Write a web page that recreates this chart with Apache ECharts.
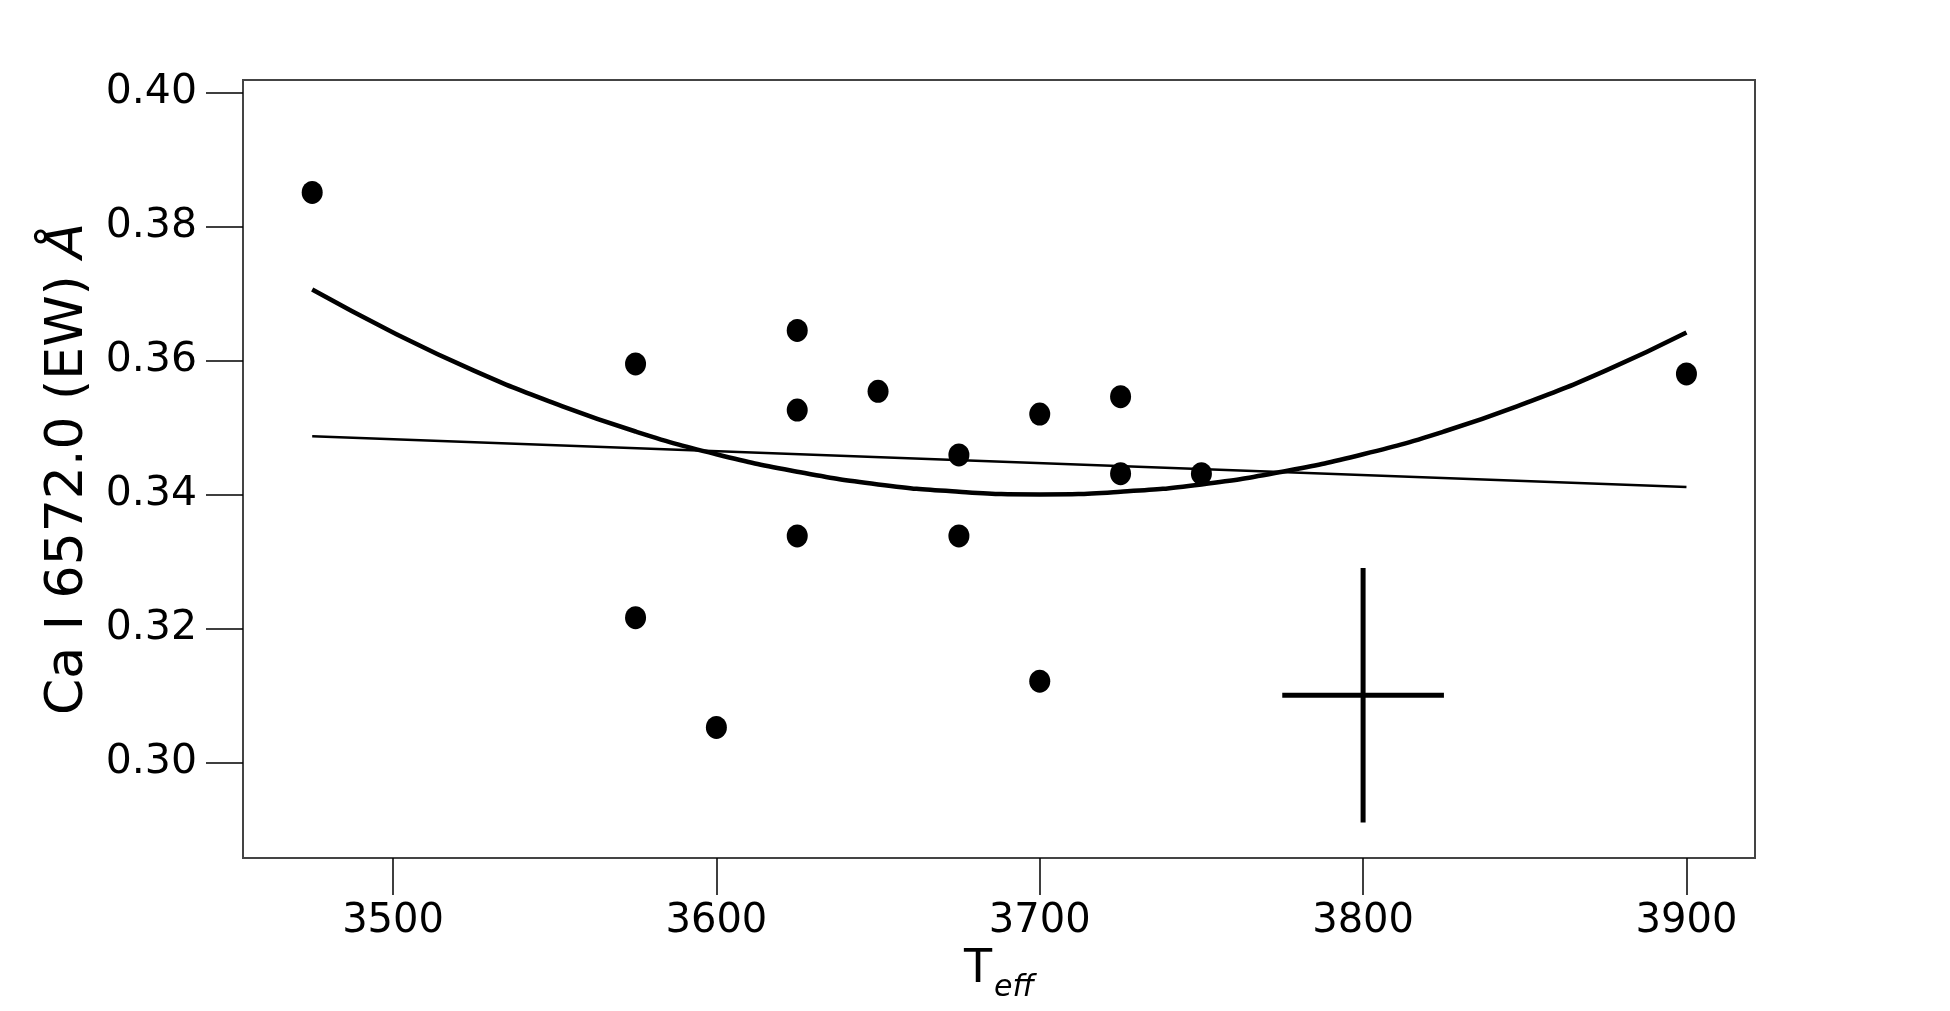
<!DOCTYPE html>
<html>
<head>
<meta charset="utf-8">
<title>Ca I 6572.0 EW vs Teff</title>
<script src="https://cdn.jsdelivr.net/npm/echarts@6.0.0/dist/echarts.min.js"></script>
<style>
  html, body { margin: 0; padding: 0; background: #fff; }
  #chart { width: 1950px; height: 1011px; }
</style>
</head>
<body>
<div id="chart"></div>
<script>
  // measured stars
  const teff = [3475, 3575, 3575, 3600, 3625, 3625, 3625, 3650, 3675, 3675, 3700, 3700, 3725, 3725, 3750, 3900]
  const ewCa = [0.3851, 0.3595, 0.3216, 0.3052, 0.3645, 0.3526, 0.3338, 0.3554, 0.3459, 0.3338, 0.3520, 0.3121, 0.3546, 0.3431, 0.3431, 0.3580]

  // quadratic fit
  const fitTeff = [3475, 3500, 3525, 3550, 3575, 3600, 3625, 3650, 3675, 3700, 3725, 3750, 3775, 3800, 3825, 3850, 3875, 3900]
  const fitEw = [0.3706, 0.3642, 0.3585, 0.3536, 0.3494, 0.3460, 0.3434, 0.3415, 0.3404, 0.3400, 0.3404, 0.3415, 0.3434, 0.3460, 0.3494, 0.3536, 0.3585, 0.3642]

  // linear fit end points
  const linTeff = [3475, 3900]
  const linEw = [0.3487, 0.3411]

  // typical error bar: centre x, centre y, half width x, half height y
  const errBar = [3800, 0.310, 25, 0.019]

  const xTicks = [3500, 3600, 3700, 3800, 3900]
  const yTicks = [0.30, 0.32, 0.34, 0.36, 0.38, 0.40]

  const font = 'DejaVu Sans'
  let chart = echarts.init(document.getElementById('chart'))
  let option = {
    animation: false,
    backgroundColor: '#fff',
    grid: {
      left: 243,
      right: 195,
      top: 80,
      bottom: 153,
      show: true,
      borderColor: '#444',
      borderWidth: 2
    },
    xAxis: {
      type: 'value',
      min: 3453.6,
      max: 3921.2,
      name: '{t|T}{s|eff}',
      nameLocation: 'middle',
      nameGap: 88,
      nameTextStyle: {
        rich: {
          t: { fontFamily: font, fontSize: 46, color: '#000', verticalAlign: 'bottom' },
          s: { fontFamily: font, fontSize: 30, fontStyle: 'italic', color: '#000', padding: [0, 0, -10, 2], verticalAlign: 'bottom' }
        }
      },
      splitLine: { show: false },
      axisLine: { show: true, lineStyle: { color: '#444', width: 2 } },
      axisTick: { show: true, customValues: xTicks, length: 37, lineStyle: { color: '#000', width: 1.5 } },
      axisLabel: {
        customValues: xTicks,
        margin: 44,
        fontFamily: font,
        fontSize: 40,
        color: '#000',
        formatter: v => String(v)
      }
    },
    yAxis: {
      type: 'value',
      min: 0.2857,
      max: 0.4019,
      name: 'Ca I 6572.0 (EW) {i|Å}',
      nameLocation: 'middle',
      nameGap: 149,
      nameRotate: 90,
      nameTextStyle: {
        fontFamily: font,
        fontSize: 52,
        color: '#000',
        rich: {
          i: { fontFamily: font, fontSize: 52, fontStyle: 'italic', color: '#000' }
        }
      },
      splitLine: { show: false },
      axisLine: { show: true, lineStyle: { color: '#444', width: 2 } },
      axisTick: { show: true, customValues: yTicks, length: 37, lineStyle: { color: '#000', width: 1.5 } },
      axisLabel: {
        customValues: yTicks,
        margin: 46,
        fontFamily: font,
        fontSize: 41,
        color: '#000',
        formatter: v => v.toFixed(2)
      }
    },
    series: [
      {
        name: 'linear',
        type: 'line',
        data: linTeff.map((t, i) => [t, linEw[i]]),
        showSymbol: false,
        lineStyle: { color: '#000', width: 2.5 },
        z: 2
      },
      {
        name: 'quadratic',
        type: 'line',
        smooth: true,
        data: fitTeff.map((t, i) => [t, fitEw[i]]),
        showSymbol: false,
        lineStyle: { color: '#000', width: 4.5 },
        z: 2
      },
      {
        name: 'stars',
        type: 'scatter',
        data: teff.map((t, i) => [t, ewCa[i]]),
        symbol: 'circle',
        symbolSize: [21, 23],
        itemStyle: { color: '#000', opacity: 1 },
        z: 3
      },
      {
        name: 'error',
        type: 'custom',
        data: [errBar],
        renderItem: function (params, api) {
          let x = api.value(0)
          let y = api.value(1)
          let dx = api.value(2)
          let dy = api.value(3)
          let left = api.coord([x - dx, y])
          let right = api.coord([x + dx, y])
          let top = api.coord([x, y + dy])
          let bottom = api.coord([x, y - dy])
          let st = { stroke: '#000', lineWidth: 5 }
          return {
            type: 'group',
            children: [
              { type: 'line', shape: { x1: left[0], y1: left[1], x2: right[0], y2: right[1] }, style: st },
              { type: 'line', shape: { x1: top[0], y1: top[1], x2: bottom[0], y2: bottom[1] }, style: st }
            ]
          }
        },
        z: 2
      }
    ]
  }
  chart.setOption(option)
</script>
</body>
</html>
